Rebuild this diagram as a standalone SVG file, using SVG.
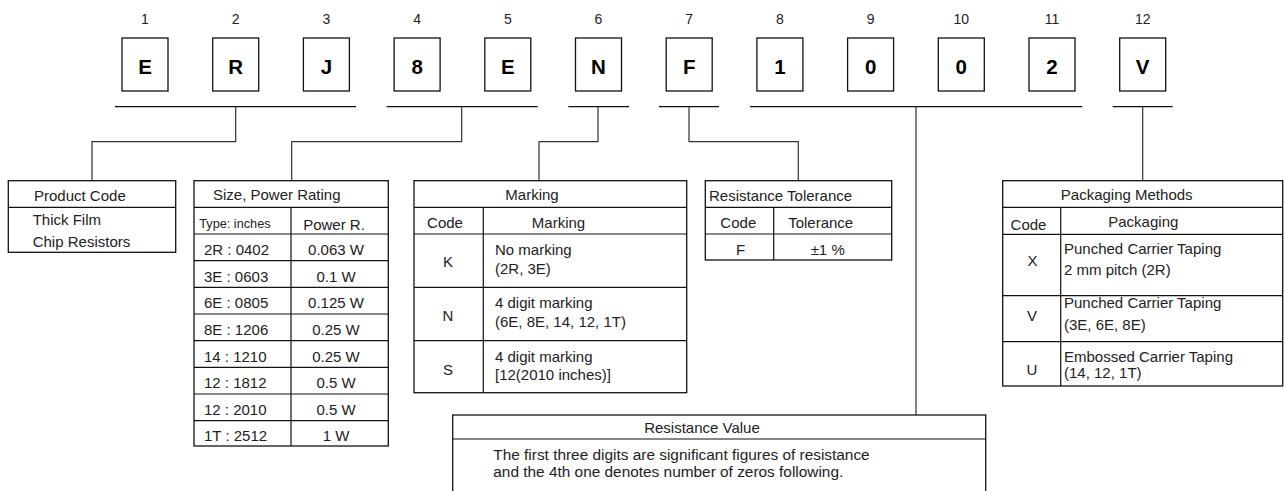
<svg xmlns="http://www.w3.org/2000/svg" width="1284" height="491" viewBox="0 0 1284 491">
<style>
text{font-family:"Liberation Sans",Arial,sans-serif;fill:#222;font-size:15px}
.num{font-size:14px;text-anchor:middle}
.big{font-size:20.5px;font-weight:bold;text-anchor:middle;fill:#000}
.m{text-anchor:middle}
.sm{font-size:12.7px}
.rv{font-size:15.4px}
.box{fill:#fff;stroke:#111;stroke-width:1.3}
.ln{stroke:#111;stroke-width:1.2;fill:none}
.con{stroke:#333;stroke-width:1.2;fill:none}
</style>
<rect width="1284" height="491" fill="#fff"/>
<g id="digits">
<text class="num" x="145" y="24">1</text>
<text class="num" x="235.7" y="24">2</text>
<text class="num" x="326.4" y="24">3</text>
<text class="num" x="417.1" y="24">4</text>
<text class="num" x="507.8" y="24">5</text>
<text class="num" x="598.5" y="24">6</text>
<text class="num" x="689.2" y="24">7</text>
<text class="num" x="779.9" y="24">8</text>
<text class="num" x="870.6" y="24">9</text>
<text class="num" x="961.3" y="24">10</text>
<text class="num" x="1052" y="24">11</text>
<text class="num" x="1142.7" y="24">12</text>
<g id="d1"><rect class="box" x="122" y="38" width="46" height="53"/><text class="big" x="145" y="74">E</text></g>
<g id="d2"><rect class="box" x="212.7" y="38" width="46" height="53"/><text class="big" x="235.7" y="74">R</text></g>
<g id="d3"><rect class="box" x="303.4" y="38" width="46" height="53"/><text class="big" x="326.4" y="74">J</text></g>
<g id="d4"><rect class="box" x="394.1" y="38" width="46" height="53"/><text class="big" x="417.1" y="74">8</text></g>
<g id="d5"><rect class="box" x="484.8" y="38" width="46" height="53"/><text class="big" x="507.8" y="74">E</text></g>
<g id="d6"><rect class="box" x="575.5" y="38" width="46" height="53"/><text class="big" x="598.5" y="74">N</text></g>
<g id="d7"><rect class="box" x="666.2" y="38" width="46" height="53"/><text class="big" x="689.2" y="74">F</text></g>
<g id="d8"><rect class="box" x="756.9" y="38" width="46" height="53"/><text class="big" x="779.9" y="74">1</text></g>
<g id="d9"><rect class="box" x="847.6" y="38" width="46" height="53"/><text class="big" x="870.6" y="74">0</text></g>
<g id="d10"><rect class="box" x="938.3" y="38" width="46" height="53"/><text class="big" x="961.3" y="74">0</text></g>
<g id="d11"><rect class="box" x="1029" y="38" width="46" height="53"/><text class="big" x="1052" y="74">2</text></g>
<g id="d12"><rect class="box" x="1119.7" y="38" width="46" height="53"/><text class="big" x="1142.7" y="74">V</text></g>
</g>
<g id="connectors">
<path class="ln" d="M115 106.7H356M386.7 106.7H537.7M568.3 106.7H629M659 106.7H719M750 106.7H1082.3M1112.7 106.7H1172.7"/>
<path class="con" d="M235.7 106.7V141.7H92V180.7"/>
<path class="con" d="M461.7 106.7V141.7H291.7V180.7"/>
<path class="con" d="M598 106.7V141.7H539V180.7"/>
<path class="con" d="M689 106.7V141.7H798.3V180.7"/>
<path class="con" d="M916 106.7V415"/>
<path class="con" d="M1142.7 106.7V180.7"/>
</g>
<g id="product-code">
<rect class="box" x="8.3" y="180.7" width="167.4" height="71.6"/>
<path class="ln" d="M8.3 207.3H175.7"/>
<text x="34" y="201">Product Code</text>
<text x="32.7" y="225">Thick Film</text>
<text x="32.7" y="247">Chip Resistors</text>
</g>
<g id="size-power">
<rect class="box" x="194" y="180.7" width="194.3" height="265.3"/>
<path class="ln" d="M194 207.3H388.3M291 207.3V446M194 234H388.3M194 260.7H388.3M194 287.3H388.3M194 314H388.3M194 340.7H388.3M194 367.3H388.3M194 394H388.3M194 420.7H388.3"/>
<text x="213" y="200">Size, Power Rating</text>
<text class="sm" x="199.3" y="227.5">Type: inches</text>
<text class="m" x="334" y="230">Power R.</text>
<text x="204" y="255">2R : 0402</text><text class="m" x="336" y="255">0.063 W</text>
<text x="204" y="281.7">3E : 0603</text><text class="m" x="336" y="281.7">0.1 W</text>
<text x="204" y="308.3">6E : 0805</text><text class="m" x="336" y="308.3">0.125 W</text>
<text x="204" y="335">8E : 1206</text><text class="m" x="336" y="335">0.25 W</text>
<text x="204" y="361.7">14 : 1210</text><text class="m" x="336" y="361.7">0.25 W</text>
<text x="204" y="388.3">12 : 1812</text><text class="m" x="336" y="388.3">0.5 W</text>
<text x="204" y="415">12 : 2010</text><text class="m" x="336" y="415">0.5 W</text>
<text x="204" y="441">1T : 2512</text><text class="m" x="336" y="441">1 W</text>
</g>
<g id="marking">
<rect class="box" x="414" y="180.7" width="272.7" height="212"/>
<path class="ln" d="M414 207.3H686.7M483.3 207.3V392.7M414 234H686.7M414 287.3H686.7M414 340.7H686.7"/>
<text class="m" x="532" y="200">Marking</text>
<text class="m" x="445" y="228">Code</text>
<text class="m" x="558.5" y="228">Marking</text>
<text class="m" x="448" y="266.7">K</text>
<text x="495" y="255">No marking</text>
<text x="495" y="274">(2R, 3E)</text>
<text class="m" x="448" y="320.7">N</text>
<text x="495" y="308">4 digit marking</text>
<text x="495" y="327">(6E, 8E, 14, 12, 1T)</text>
<text class="m" x="448" y="375">S</text>
<text x="495" y="361.7">4 digit marking</text>
<text x="495" y="380">[12(2010 inches)]</text>
</g>
<g id="tolerance">
<rect class="box" x="705.3" y="180.7" width="186.4" height="79.3"/>
<path class="ln" d="M705.3 207.3H891.7M773.7 207.3V260M705.3 234H891.7"/>
<text x="709" y="201">Resistance Tolerance</text>
<text class="m" x="738.3" y="228">Code</text>
<text class="m" x="820.7" y="228">Tolerance</text>
<text class="m" x="740.7" y="255">F</text>
<text class="m" x="827.7" y="255">±1 %</text>
</g>
<g id="packaging">
<rect class="box" x="1002.7" y="180.7" width="280" height="205.3"/>
<path class="ln" d="M1002.7 207.3H1282.7M1060.7 207.3V386M1002.7 234.3H1282.7M1002.7 295.7H1282.7M1002.7 341.7H1282.7"/>
<text class="m" x="1126.7" y="200">Packaging Methods</text>
<text class="m" x="1028.5" y="230">Code</text>
<text class="m" x="1143.3" y="226.5">Packaging</text>
<text class="m" x="1032.5" y="266">X</text>
<text x="1064" y="254">Punched Carrier Taping</text>
<text x="1064" y="275">2 mm pitch (2R)</text>
<text class="m" x="1032" y="320.7">V</text>
<text x="1064" y="308.3">Punched Carrier Taping</text>
<text x="1064" y="330">(3E, 6E, 8E)</text>
<text class="m" x="1032" y="375">U</text>
<text x="1064" y="361.7">Embossed Carrier Taping</text>
<text x="1064" y="378.3">(14, 12, 1T)</text>
</g>
<g id="resistance-value">
<rect class="box" x="452.7" y="415" width="533" height="90"/>
<path class="ln" d="M452.7 439H985.7"/>
<text class="m" x="702" y="433.3">Resistance Value</text>
<text class="rv" x="493.3" y="460">The first three digits are significant figures of resistance</text>
<text class="rv" x="493.3" y="476.7">and the 4th one denotes number of zeros following.</text>
</g>
</svg>
